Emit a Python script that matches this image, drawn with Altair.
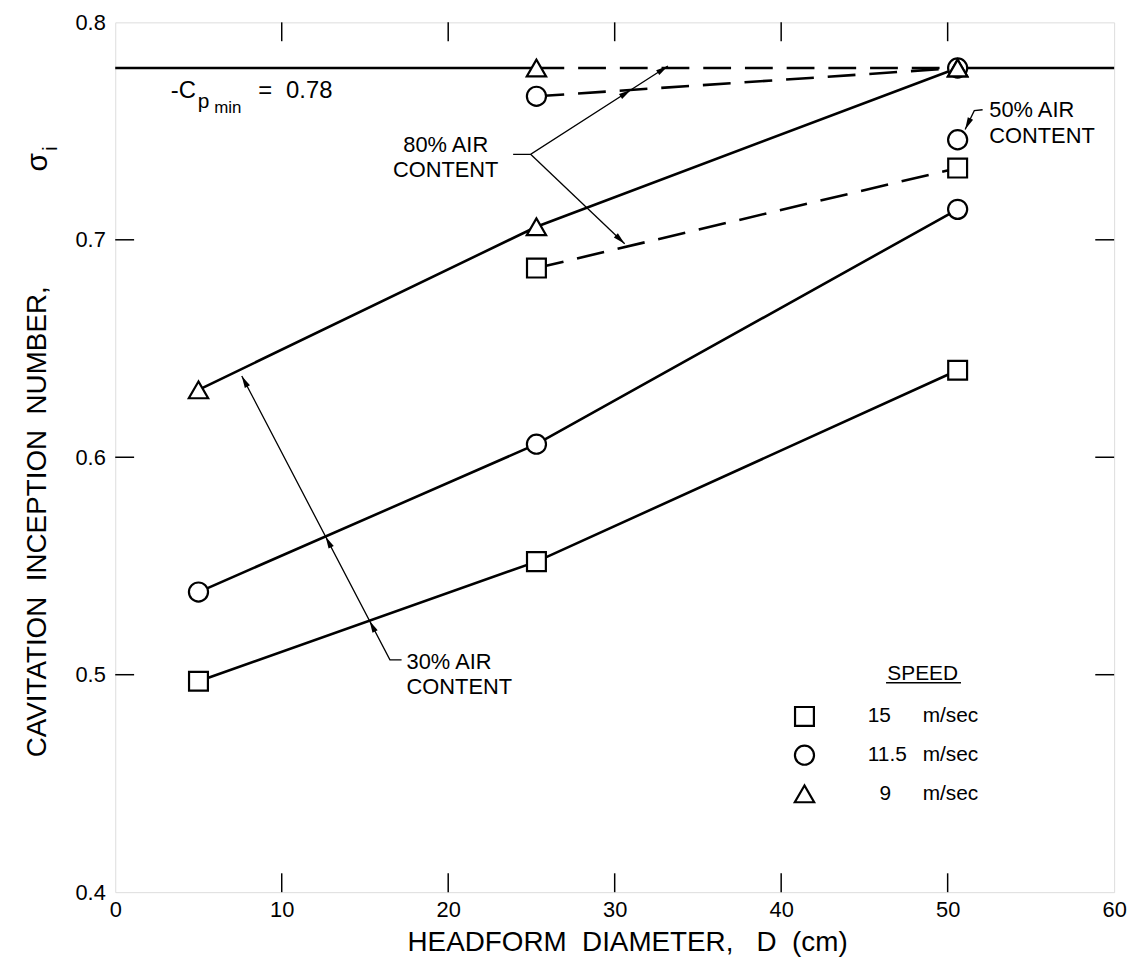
import math
import altair as alt
import pandas as pd

# ---------------- data ----------------
D3 = [5.0, 25.3, 50.6]            # headform diameters (30% air content)
SQ_30 = [0.497, 0.552, 0.640]     # 15 m/sec
CI_30 = [0.538, 0.606, 0.714]     # 11.5 m/sec
TR_30 = [0.631, 0.706, 0.779]     # 9 m/sec

D2 = [25.3, 50.6]                 # 80% air content
SQ_80 = [0.687, 0.733]
CI_80 = [0.766, 0.779]
TR_80 = [0.779, 0.779]

D_50 = [50.6]                     # 50% air content
CI_50 = [0.746]

CP_MIN = 0.779
CP_SEG_A = [0, 25.3]
CP_SEG_B = [50.6, 60]

X_TICKS = [0, 10, 20, 30, 40, 50, 60]
Y_TICKS = [0.4, 0.5, 0.6, 0.7, 0.8]
X_INNER = [10, 20, 30, 40, 50]
Y_INNER = [0.5, 0.6, 0.7]

SPEEDS = ["15", "11.5", "9"]
SHAPES = ["square", "circle", "triangle-up"]

# leader lines of the annotations (data coordinates)
L30 = [(17.2, 0.5068), (16.5, 0.5068), (7.6, 0.6374)]
L80A = [(23.9, 0.7393), (24.95, 0.7393), (33.2, 0.7799)]
L80B = [(24.95, 0.7393), (30.6, 0.6982)]
L50 = [(52.1, 0.7598), (51.6, 0.7594), (51.05, 0.7507)]

# ---------------- layout ----------------
W, H = 1006, 876
XDOM, YDOM = [0, 60], [0.4, 0.8]
PX_X = W / (XDOM[1] - XDOM[0])
PX_Y = H / (YDOM[1] - YDOM[0])
FONT = "Liberation Sans"

xs = alt.Scale(domain=XDOM, nice=False, zero=False)
ys = alt.Scale(domain=YDOM, nice=False, zero=False)
X = alt.X("x:Q", scale=xs, axis=alt.Axis(values=X_TICKS, ticks=False, domain=False, grid=False,
                                         labelFontSize=22, labelFont=FONT, labelColor="black",
                                         labelPadding=8, title=None, labelFlush=False))
Y = alt.Y("y:Q", scale=ys, axis=alt.Axis(values=Y_TICKS, ticks=False, domain=False, grid=False,
                                         labelFontSize=22, labelFont=FONT, labelColor="black",
                                         labelPadding=10, format=".1f", title=None, labelFlush=False))


def intersect(p1, p2, p3, p4):
    (x1, y1), (x2, y2), (x3, y3), (x4, y4) = p1, p2, p3, p4
    d = (x1 - x2) * (y3 - y4) - (y1 - y2) * (x3 - x4)
    t = ((x1 - x3) * (y3 - y4) - (y1 - y3) * (x3 - x4)) / d
    return (x1 + t * (x2 - x1), y1 + t * (y2 - y1))


def ang(p0, p1):
    dx = (p1[0] - p0[0]) * PX_X
    dy = (p1[1] - p0[1]) * PX_Y
    return math.degrees(math.atan2(dx, dy)) % 360


# ---------------- series lines ----------------
rows = []
for name, dd, vals, air in [("sq30", D3, SQ_30, 30), ("ci30", D3, CI_30, 30), ("tr30", D3, TR_30, 30),
                            ("sq80", D2, SQ_80, 80), ("ci80", D2, CI_80, 80), ("tr80", D2, TR_80, 80)]:
    for i, (d, v) in enumerate(zip(dd, vals)):
        rows.append({"series": name, "air": air, "x": d, "y": v, "o": i})
lines = pd.DataFrame(rows)

cp = pd.DataFrame({"x": CP_SEG_A + CP_SEG_B, "y": [CP_MIN] * 4, "seg": ["a", "a", "b", "b"]})

solid = alt.Chart(lines[lines.air == 30]).mark_line(color="black", strokeWidth=2.6).encode(
    x=X, y=Y, detail="series:N", order="o:Q")
dashed = alt.Chart(lines[lines.air == 80]).mark_line(color="black", strokeWidth=2.6,
                                                    strokeDash=[28, 14]).encode(
    x=X, y=Y, detail="series:N", order="o:Q")
cpline = alt.Chart(cp).mark_line(color="black", strokeWidth=2.6).encode(x=X, y=Y, detail="seg:N")

# ---------------- markers ----------------
prow = []
for dd, vals, sp in [(D3, CI_30, "11.5"), (D2, CI_80, "11.5"), (D_50, CI_50, "11.5"),
                     (D3, SQ_30, "15"), (D2, SQ_80, "15"),
                     (D3, TR_30, "9"), (D2, TR_80, "9")]:
    for d, v in zip(dd, vals):
        prow.append({"x": d, "y": v, "speed": sp})
pts = pd.DataFrame(prow)

# legend symbols
LEG_X = [41.4, 41.4, 41.4]
LEG_Y = [0.4808, 0.463, 0.4452]
leg = pd.DataFrame({"x": LEG_X, "y": LEG_Y, "speed": SPEEDS})

shape_enc = alt.Shape("speed:N", scale=alt.Scale(domain=SPEEDS, range=SHAPES), legend=None)
size_enc = alt.Size("speed:N", scale=alt.Scale(domain=SPEEDS, range=[361, 380, 529]), legend=None)

markers = alt.Chart(pts).mark_point(filled=False, fill="white", fillOpacity=1, color="black",
                                    strokeWidth=2.2, opacity=1).encode(
    x=X, y=Y, shape=shape_enc, size=size_enc)
legmarks = alt.Chart(leg).mark_point(filled=False, fill="white", fillOpacity=1, color="black",
                                     strokeWidth=2.2, opacity=1).encode(
    x=X, y=Y, shape=shape_enc, size=size_enc)

# ---------------- frame ticks (inside) ----------------
tick_len_x = 19 / PX_X
tick_len_y = 19 / PX_Y
trows = []
for v in Y_INNER:
    trows.append({"x": XDOM[0], "x2": XDOM[0] + tick_len_x, "y": v, "y2": v})
    trows.append({"x": XDOM[1] - tick_len_x, "x2": XDOM[1], "y": v, "y2": v})
for v in X_INNER:
    trows.append({"x": v, "x2": v, "y": YDOM[0], "y2": YDOM[0] + tick_len_y})
    trows.append({"x": v, "x2": v, "y": YDOM[1] - tick_len_y, "y2": YDOM[1]})
ticks = alt.Chart(pd.DataFrame(trows)).mark_rule(color="black", strokeWidth=1.5).encode(
    x=X, x2="x2:Q", y=Y, y2="y2:Q")

# ---------------- leader lines and arrowheads ----------------
lrows = []
for name, pl in [("l30", L30), ("l80a", L80A), ("l80b", L80B), ("l50", L50)]:
    for i, (a, b) in enumerate(pl):
        lrows.append({"lead": name, "x": a, "y": b, "o": i})
leaders = alt.Chart(pd.DataFrame(lrows)).mark_line(color="black", strokeWidth=1.3).encode(
    x=X, y=Y, detail="lead:N", order="o:Q")

arrows = []
a30 = ang(L30[1], L30[2])
arrows.append((L30[2], a30))
arrows.append((intersect(L30[1], L30[2], (D3[0], CI_30[0]), (D3[1], CI_30[1])), a30))
arrows.append((intersect(L30[1], L30[2], (D3[0], SQ_30[0]), (D3[1], SQ_30[1])), a30))
a80a = ang(L80A[1], L80A[2])
arrows.append((L80A[2], a80a))
arrows.append((intersect(L80A[1], L80A[2], (D2[0], CI_80[0]), (D2[1], CI_80[1])), a80a))
arrows.append((L80B[1], ang(L80B[0], L80B[1])))
arrows.append((L50[2], ang(L50[1], L50[2])))
arr = pd.DataFrame({"x": [p[0][0] for p in arrows], "y": [p[0][1] for p in arrows],
                    "a": [p[1] for p in arrows]})
heads = alt.Chart(arr).mark_point(shape="M0,0L0.42,1.75L-0.42,1.75Z", filled=True, color="black",
                                  size=196, opacity=1, strokeWidth=0).encode(
    x=X, y=Y, angle=alt.Angle("a:Q", scale=None))

# ---------------- annotation text ----------------
def txt(df, align="left", size=22, baseline="middle"):
    return alt.Chart(df).mark_text(align=align, baseline=baseline, fontSize=size, font=FONT,
                                   color="black").encode(x=X, y=Y, text="t:N")

ann_left = pd.DataFrame({"x": [17.5, 17.5, 52.5, 52.5],
                         "y": [0.5059, 0.4945, 0.7598, 0.7479],
                         "t": ["30% AIR", "CONTENT", "50% AIR", "CONTENT"]})
ann_80 = pd.DataFrame({"x": [19.85, 19.85], "y": [0.7438, 0.732], "t": ["80% AIR", "CONTENT"]})

cp_main = pd.DataFrame({"x": [3.34, 8.59, 10.26], "y": [0.7653] * 3, "t": ["-C", "=", "0.78"]})
cp_p = pd.DataFrame({"x": [4.95], "y": [0.7607], "t": ["p"]})
cp_min = pd.DataFrame({"x": [5.95], "y": [0.7584], "t": ["min"]})

leg_head = pd.DataFrame({"x": [48.5], "y": [0.5005], "t": ["SPEED"]})
leg_under = pd.DataFrame({"x": [46.3], "x2": [50.8], "y": [0.4963], "y2": [0.4963]})
leg_num = pd.DataFrame({"x": [45.2, 45.2, 45.9], "y": LEG_Y, "t": ["15", "11.5", "9"]})
leg_unit = pd.DataFrame({"x": [48.5] * 3, "y": LEG_Y, "t": ["m/sec"] * 3})

underline = alt.Chart(leg_under).mark_rule(color="black", strokeWidth=1.5).encode(
    x=X, x2="x2:Q", y=Y, y2="y2:Q")

# ---------------- axis titles ----------------
NB = "\u00a0"
xt = alt.Chart(pd.DataFrame({"t": [f"HEADFORM{NB*2}DIAMETER,{NB*3}D{NB*2}(cm)"]})).mark_text(
    fontSize=28, font=FONT, color="black", align="center", baseline="middle").encode(
    x=alt.value(516), y=alt.value(927), text="t:N")
yt = alt.Chart(pd.DataFrame({"t": [f"CAVITATION{NB*2}INCEPTION{NB*2}NUMBER,"]})).mark_text(
    fontSize=28, font=FONT, color="black", align="center", baseline="middle", angle=270).encode(
    x=alt.value(-78), y=alt.value(503), text="t:N")
ysig = alt.Chart(pd.DataFrame({"t": ["σ"]})).mark_text(
    fontSize=30, font=FONT, color="black", align="center", baseline="middle", angle=270).encode(
    x=alt.value(-78), y=alt.value(141), text="t:N")
ysub = alt.Chart(pd.DataFrame({"t": ["i"]})).mark_text(
    fontSize=20, font=FONT, color="black", align="center", baseline="middle", angle=270).encode(
    x=alt.value(-65), y=alt.value(127), text="t:N")

chart = alt.layer(
    ticks, cpline, solid, dashed, leaders, heads, markers, legmarks, underline,
    txt(ann_left), txt(ann_80, align="center"),
    txt(cp_main, size=24, baseline="alphabetic"), txt(cp_p, size=21, baseline="alphabetic"),
    txt(cp_min, size=17, baseline="alphabetic"),
    txt(leg_head, align="center", size=21), txt(leg_num, size=21), txt(leg_unit, size=21),
    xt, yt, ysig, ysub,
).properties(
    width=W, height=H,
    autosize=alt.AutoSizeParams(type="none"),
    padding={"left": 108, "top": 11, "right": 19, "bottom": 83},
).configure_view(stroke="black", strokeWidth=2).configure(background="white")

chart.save("out.html", embed_options={"renderer": "svg", "actions": False})
